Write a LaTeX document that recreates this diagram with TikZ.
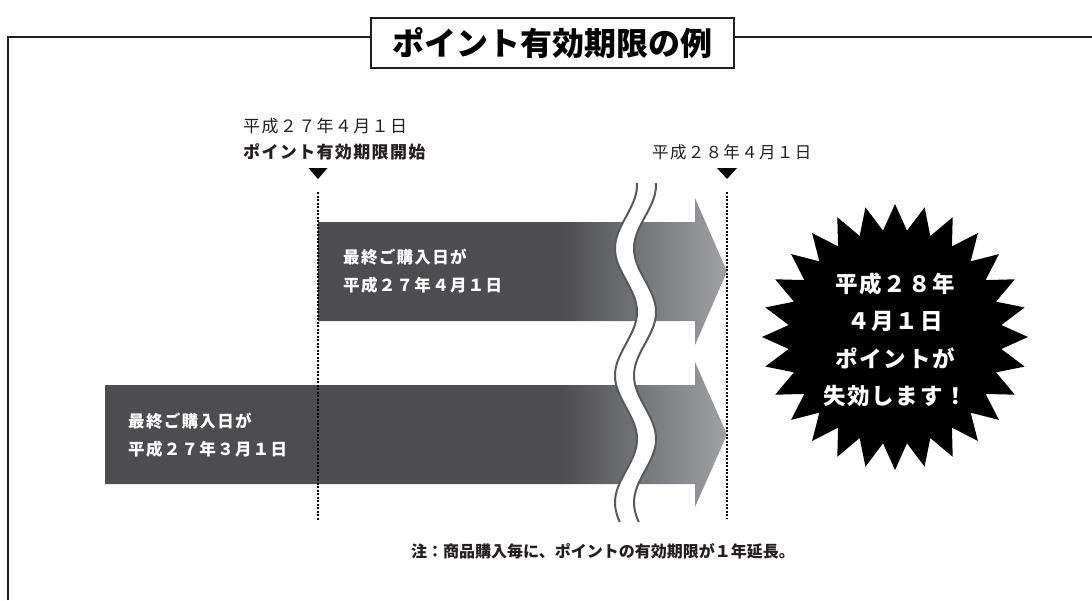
\documentclass[tikz,border=0pt]{standalone}
\usepackage{fontspec}
\setmainfont{Noto Sans CJK JP}
\newfontfamily\jpsp[LetterSpace=8]{Noto Sans CJK JP}
\definecolor{adk}{HTML}{4D4D4F}
\definecolor{alt}{HTML}{A0A1A4}
\definecolor{ink}{HTML}{231F20}
\definecolor{wavec}{HTML}{58595B}
\pgfdeclarehorizontalshading{shUp}{100bp}{color(0bp)=(adk); color(54.6bp)=(adk); color(75bp)=(alt); color(100bp)=(alt)}
\pgfdeclarehorizontalshading{shLo}{100bp}{color(0bp)=(adk); color(61.6bp)=(adk); color(75bp)=(alt); color(100bp)=(alt)}
\begin{document}
\begin{tikzpicture}[x=1pt,y=-1pt,
  lbl/.style={inner sep=0pt, anchor=west, text=ink},
  atxt/.style={inner sep=0pt, anchor=west, text=white, font=\jpsp\bfseries\fontsize{16.5}{28}\selectfont, align=left},
  dots/.style={line width=2.6pt, dash pattern=on 2.1pt off 1.4pt, draw=black},
  wav/.style={draw=wavec, line width=2pt},
]
\useasboundingbox (0,0) rectangle (1092,600);
% frame
\draw[line width=2.6pt, draw=ink] (8,600) -- (8,37) -- (1092,37);
\node[draw=ink, line width=2pt, fill=white, minimum width=363pt, minimum height=50pt, inner sep=0pt, font=\bfseries\fontsize{32}{32}\selectfont] (title) at (552.5,43) {ポイント有効期限の例};
% arrows
\shade[shading=shUp] (318,222) -- (695,222) -- (695,198) -- (727,271.5) -- (695,345) -- (695,321) -- (318,321) -- cycle;
\shade[shading=shLo] (105,385) -- (695,385) -- (695,362) -- (727,434.5) -- (695,507) -- (695,484) -- (105,484) -- cycle;
% wave break
\fill[white] plot[domain=183:522, samples=120] ({626+11*cos((\x-185)*2.8346)},\x) -- plot[domain=522:183, samples=120] ({645+11*cos((\x-185)*2.8346)},\x) -- cycle;
\draw[wav] plot[domain=183:522, samples=120] ({626+11*cos((\x-185)*2.8346)},\x);
\draw[wav] plot[domain=183:522, samples=120] ({645+11*cos((\x-185)*2.8346)},\x);
% dotted lines and markers
\coordinate (d1t) at (318,192);
\coordinate (d1b) at (318,520);
\coordinate (d2t) at (727,192);
\coordinate (d2b) at (727,518);
\draw[dots] (d1t) -- (d1b);
\draw[dots] (d2t) -- (d2b);
\fill[black] (308.5,168) -- (327.5,168) -- (318,179) -- cycle;
\fill[black] (717,168) -- (737,168) -- (727,179) -- cycle;
% labels
\node[lbl, font=\jpsp\fontsize{17}{17}\selectfont] (l1) at (243,126) {平成２７年４月１日};
\node[lbl, font=\jpsp\bfseries\fontsize{17}{17}\selectfont] (l2) at (243,152) {ポイント有効期限開始};
\node[lbl, font=\jpsp\fontsize{16.5}{17}\selectfont] (l3) at (652,152) {平成２８年４月１日};
\node[atxt] (t1) at (343,271.5) {最終ご購入日が\\平成２７年４月１日};
\node[atxt] (t2) at (128,435.5) {最終ご購入日が\\平成２７年３月１日};
% starburst
\begin{scope}[shift={(895,337)}]
\fill[black] plot[samples at={0,...,55}, variable=\k] ({(mod(\k,2)==0?133:107)*cos(\k*6.42857)}, {(mod(\k,2)==0?133:107)*sin(\k*6.42857)}) -- cycle;
\end{scope}
\node[inner sep=0pt, text=white, align=center, font=\jpsp\bfseries\fontsize{22.5}{37.5}\selectfont] (bt) at (895,340) {平成２８年\\４月１日\\ポイントが\\失効します！};
% note
\node[inner sep=0pt, text=ink, font=\bfseries\fontsize{16}{16}\selectfont] (note) at (603,551) {注：商品購入毎に、ポイントの有効期限が１年延長。};
\end{tikzpicture}
\end{document}
